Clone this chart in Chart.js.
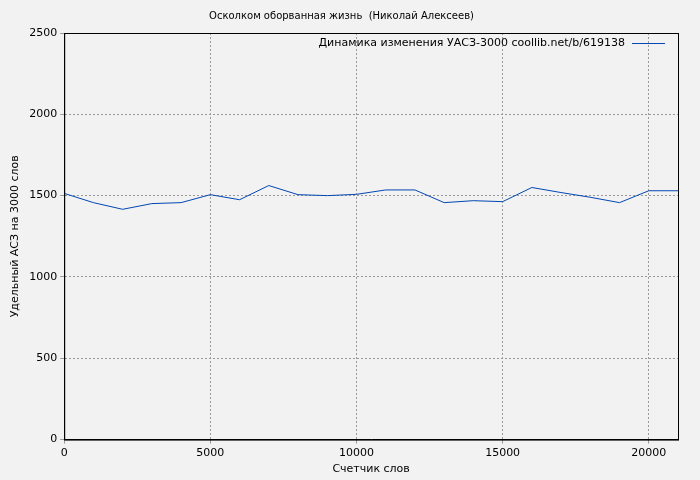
<!DOCTYPE html>
<html>
<head>
<meta charset="utf-8">
<script src="https://cdn.jsdelivr.net/npm/chart.js@4"></script>
<style>
  body { margin: 0; background: #f2f2f2; }
  #wrap { width: 700px; height: 480px; }
</style>
</head>
<body>
<div id="wrap"><canvas id="c" width="700" height="480"></canvas></div>
<script>
const words = [0, 1000, 2000, 3000, 4000, 5000, 6000, 7000, 8000, 9000, 10000,
  11000, 12000, 13000, 14000, 15000, 16000, 17000, 18000, 19000, 20000, 21000];
const uasz = [1514, 1457, 1416, 1451, 1457, 1506, 1475, 1562, 1506, 1500, 1508,
  1535, 1535, 1457, 1469, 1463, 1550, 1519, 1490, 1457, 1530, 1530];
const xTicks = [0, 5000, 10000, 15000, 20000];
const chartTitle = "Осколком оборванная жизнь  (Николай Алексеев)";
const legendLabel = "Динамика изменения УАСЗ-3000 coollib.net/b/619138";

// frame + legend drawn over the plot area
const framePlugin = {
  id: "frame",
  afterDraw(chart) {
    const { ctx, chartArea: a } = chart;
    ctx.save();
    ctx.strokeStyle = "#000";
    ctx.lineWidth = 1;
    ctx.strokeRect(a.left + 0.5, a.top + 0.5, a.right - a.left, a.bottom - a.top);
    ctx.font = "11px 'DejaVu Sans'";
    ctx.fillStyle = "#000";
    ctx.textAlign = "right";
    ctx.textBaseline = "middle";
    ctx.fillText(legendLabel, a.right - 53, a.top + 10);
    ctx.strokeStyle = "#0047b3";
    ctx.beginPath();
    ctx.moveTo(a.right - 46, a.top + 10.5);
    ctx.lineTo(a.right - 13, a.top + 10.5);
    ctx.stroke();
    ctx.restore();
  }
};

const font = { family: "DejaVu Sans", size: 11 };
new Chart(document.getElementById("c"), {
  type: "line",
  data: {
    datasets: [{
      data: words.map((w, i) => ({ x: w, y: uasz[i] })),
      borderColor: "#0047b3",
      borderWidth: 1,
      pointRadius: 0,
      tension: 0
    }]
  },
  options: {
    responsive: false,
    animation: false,
    layout: { padding: { left: 5, right: 22, top: 0, bottom: 4 } },
    plugins: {
      legend: { display: false },
      tooltip: { enabled: false },
      title: { display: true, text: chartTitle, color: "#000",
        font: { family: "DejaVu Sans", size: 10, weight: "normal" }, padding: { top: 10, bottom: 11 } }
    },
    scales: {
      x: {
        type: "linear", min: 0, max: 21000,
        afterBuildTicks: s => { s.ticks = xTicks.map(v => ({ value: v })); },
        ticks: { color: "#000", font: font, maxRotation: 0, callback: v => String(v) },
        grid: { color: "#999", tickLength: 4 },
        border: { color: "#000", dash: [2, 2] },
        title: { display: true, text: "Счетчик слов", color: "#000", font: font, padding: 0 }
      },
      y: {
        min: 0, max: 2500,
        ticks: { stepSize: 500, color: "#000", font: font, callback: v => String(v) },
        grid: { color: "#999", tickLength: 4 },
        border: { color: "#000", dash: [2, 2] },
        title: { display: true, text: "Удельный АСЗ на 3000 слов", color: "#000", font: font, padding: 4 }
      }
    }
  },
  plugins: [framePlugin]
});
</script>
</body>
</html>
